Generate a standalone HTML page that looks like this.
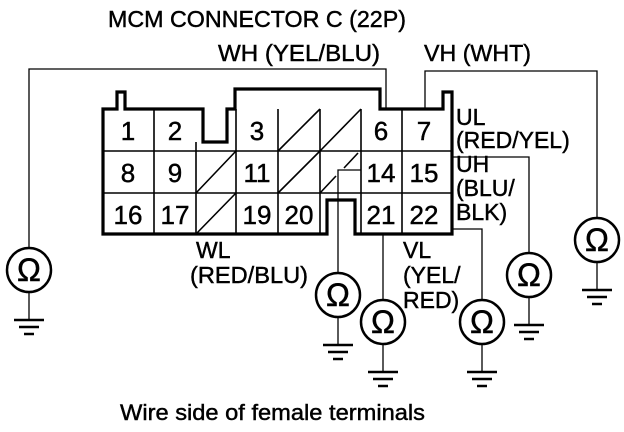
<!DOCTYPE html>
<html><head><meta charset="utf-8"><style>
html,body{margin:0;padding:0;background:#fff;}
svg{display:block;}
text{font-family:"Liberation Sans",Arial,sans-serif;fill:#000;stroke:#000;stroke-width:0.45;}
</style></head><body>
<svg width="624" height="432" viewBox="0 0 624 432" xmlns="http://www.w3.org/2000/svg">
<g font-size="22">
<text x="108" y="27" textLength="298" lengthAdjust="spacingAndGlyphs" font-size="23">MCM CONNECTOR C (22P)</text>
<text x="218" y="61" textLength="162" lengthAdjust="spacingAndGlyphs" font-size="23">WH (YEL/BLU)</text>
<text x="424" y="61" textLength="107" lengthAdjust="spacingAndGlyphs" font-size="23">VH (WHT)</text>
<text x="456" y="125" font-size="23">UL</text>
<text x="456" y="148" font-size="23">(RED/YEL)</text>
<text x="456" y="172" font-size="23">UH</text>
<text x="456" y="196" font-size="23">(BLU/</text>
<text x="456" y="220" font-size="23">BLK)</text>
<text x="196" y="258" font-size="23">WL</text>
<text x="190" y="283" textLength="118" lengthAdjust="spacingAndGlyphs" font-size="23">(RED/BLU)</text>
<text x="403" y="258" font-size="23">VL</text>
<text x="403" y="283" font-size="23">(YEL/</text>
<text x="403" y="308" font-size="23">RED)</text>
<text x="120" y="420" font-size="22" textLength="305" lengthAdjust="spacingAndGlyphs">Wire side of female terminals</text>
</g>
<g fill="none" stroke="#000" stroke-width="1.3">
<polyline points="386,109 386,69 29,69 29,247"/>
<polyline points="425,109 425,71 597,71 597,217"/>
<polyline points="452,157 529,157 529,252"/>
<polyline points="452,229 482,229 482,299"/>
<polyline points="383,234 383,299"/>
<polyline points="361,170 338,170 338,272"/>
</g>
<g stroke="#000" stroke-width="1.6" fill="none">
<line x1="103" y1="151" x2="452" y2="151"/>
<line x1="103" y1="193" x2="452" y2="193"/>
<line x1="154" y1="109" x2="154" y2="234"/>
<line x1="196" y1="142" x2="196" y2="234"/>
<line x1="236" y1="109" x2="236" y2="234"/>
<line x1="278" y1="109" x2="278" y2="234"/>
<line x1="320" y1="109" x2="320" y2="234"/>
<line x1="361" y1="109" x2="361" y2="234"/>
<line x1="402" y1="109" x2="402" y2="234"/>
<line x1="278" y1="151" x2="320" y2="109"/>
<line x1="320" y1="151" x2="361" y2="109"/>
<line x1="196" y1="193" x2="236" y2="151"/>
<line x1="278" y1="193" x2="320" y2="151"/>
<line x1="320" y1="193" x2="336" y2="176"/>
<line x1="344" y1="168" x2="358" y2="153"/>
<line x1="196" y1="234" x2="236" y2="193"/>
</g>
<path d="M103,109 L117,109 L117,92 L125,92 L125,109 L203,109 L203,142 L227,142 L227,109 L235,109 L235,89 L380,89 L380,109 L443,109 L443,92 L452,92 L452,234 L355,234 L355,200 L327,200 L327,234 L103,234 Z" fill="none" stroke="#000" stroke-width="3.2" stroke-linejoin="miter"/>
<g font-size="26" text-anchor="middle">
<text x="128" y="140">1</text><text x="175" y="140">2</text><text x="257" y="140">3</text><text x="381" y="140">6</text><text x="424" y="140">7</text>
<text x="128" y="182">8</text><text x="175" y="182">9</text><text x="257" y="182">11</text><text x="381" y="182">14</text><text x="424" y="182">15</text>
<text x="128" y="224">16</text><text x="175" y="224">17</text><text x="257" y="224">19</text><text x="299" y="224">20</text><text x="381" y="224">21</text><text x="424" y="224">22</text>
</g>
<defs>
<g id="m">
<circle cx="0" cy="0" r="22" fill="#fff" stroke="#000" stroke-width="2.5"/>
<text x="0" y="11" font-size="32" text-anchor="middle">Ω</text>
<line x1="0" y1="22" x2="0" y2="50" stroke="#000" stroke-width="1.3"/>
<line x1="-15" y1="50" x2="15" y2="50" stroke="#000" stroke-width="2.5"/>
<line x1="-10" y1="57" x2="10" y2="57" stroke="#000" stroke-width="2.5"/>
<line x1="-5" y1="64" x2="5" y2="64" stroke="#000" stroke-width="2.5"/>
</g>
</defs>
<use href="#m" x="29" y="270"/>
<use href="#m" x="338" y="295"/>
<use href="#m" x="383" y="322"/>
<use href="#m" x="482" y="322"/>
<use href="#m" x="529" y="275"/>
<use href="#m" x="597" y="240"/>
</svg>
</body></html>
